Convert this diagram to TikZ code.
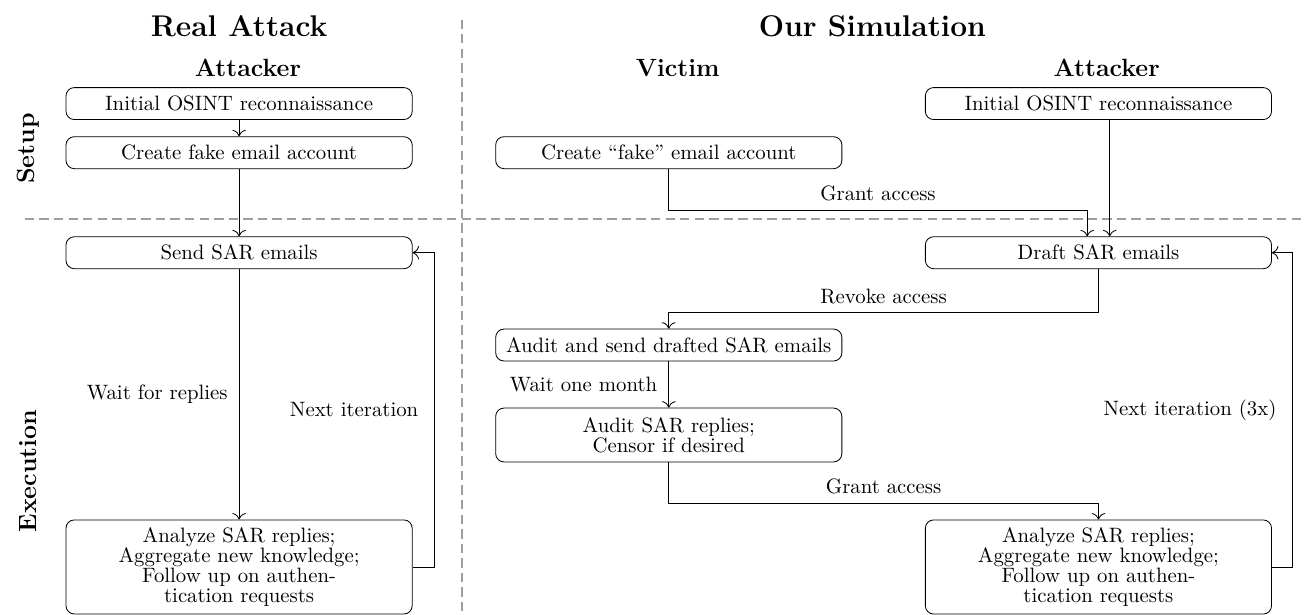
\documentclass[tikz,border=0pt]{standalone}
\usetikzlibrary{arrows.meta}

\begin{document}
\begin{tikzpicture}[>={To[scale=1.25]},
  act/.style={draw,rounded corners=4pt,minimum width=5.85cm,minimum height=0.54cm,
    align=center,font=\fontsize{10}{9.7}\selectfont},
  head/.style={font=\Large\bfseries},
  role/.style={font=\large\bfseries},
  phase/.style={font=\large\bfseries,rotate=90},
  sep/.style={black!38,thick,dash pattern=on 4.5pt off 2.5pt},
  note/.style={font=\fontsize{10}{12}\selectfont}]
  \useasboundingbox (0,0) rectangle (22.05,10.39);
  \draw[sep] (7.81,10.06)--(7.81,0);
  \draw[sep] (0.42,6.69)--(22.05,6.69);
  \node[head] (real) at (4.04,9.95) {Real Attack};
  \node[head] (sim) at (14.74,9.95) {Our Simulation};
  \node[role] (realatt) at (4.19,9.24) {Attacker};
  \node[role] (victim) at (11.45,9.24) {Victim};
  \node[role] (simatt) at (18.70,9.24) {Attacker};
  \node[phase] (setup) at (0.47,7.88) {Setup};
  \node[phase] (exec) at (0.47,2.43) {Execution};

  \node[act] (l1) at (4.04,8.64) {Initial OSINT reconnaissance};
  \node[act] (l2) at (4.04,7.81) {Create fake email account};
  \node[act] (l3) at (4.04,6.12) {Send SAR emails};
  \node[act,minimum height=1.59cm] (l4) at (4.04,0.81)
    {Analyze SAR replies;\\Aggregate new knowledge;\\Follow up on authen-\\tication requests};
  \draw[->] (l1)--(l2);
  \draw[->] (l2)--(l3);
  \draw[->] (l3)--(l4) node[note,midway,left,xshift=-2pt] {Wait for replies};
  \draw[->] (l4.east) -- ++(0.36,0) |- (l3.east)
    node[note,pos=0.25,left,xshift=-4pt] {Next iteration};

  \node[act] (v1) at (11.30,7.81) {Create “fake” email account};
  \node[act] (v2) at (11.30,4.56) {Audit and send drafted SAR emails};
  \node[act,minimum height=0.91cm] (v3) at (11.30,3.04) {Audit SAR replies;\\Censor if desired};
  \node[act] (a1) at (18.56,8.64) {Initial OSINT reconnaissance};
  \node[act] (a2) at (18.56,6.12) {Draft SAR emails};
  \node[act,minimum height=1.59cm] (a3) at (18.56,0.81)
    {Analyze SAR replies;\\Aggregate new knowledge;\\Follow up on authen-\\tication requests};
  \draw[->] ([xshift=0.19cm]a1.south)--([xshift=0.19cm]a2.north);
  \draw[->] (v1.south) -- ++(0,-0.69) -| ([xshift=-0.19cm]a2.north)
    node[note,pos=0.25,above,yshift=1pt] {Grant access};
  \draw[->] (a2.south) -- ++(0,-0.74) -| (v2.north)
    node[note,pos=0.25,above,yshift=1pt] {Revoke access};
  \draw[->] (v2)--(v3) node[note,midway,left,xshift=-2pt] {Wait one month};
  \draw[->] (v3.south) -- ++(0,-0.69) -| (a3.north)
    node[note,pos=0.25,above,yshift=1pt] {Grant access};
  \draw[->] (a3.east) -- ++(0.34,0) |- (a2.east)
    node[note,pos=0.25,left,xshift=-4pt] {Next iteration (3x)};
\end{tikzpicture}
\end{document}
